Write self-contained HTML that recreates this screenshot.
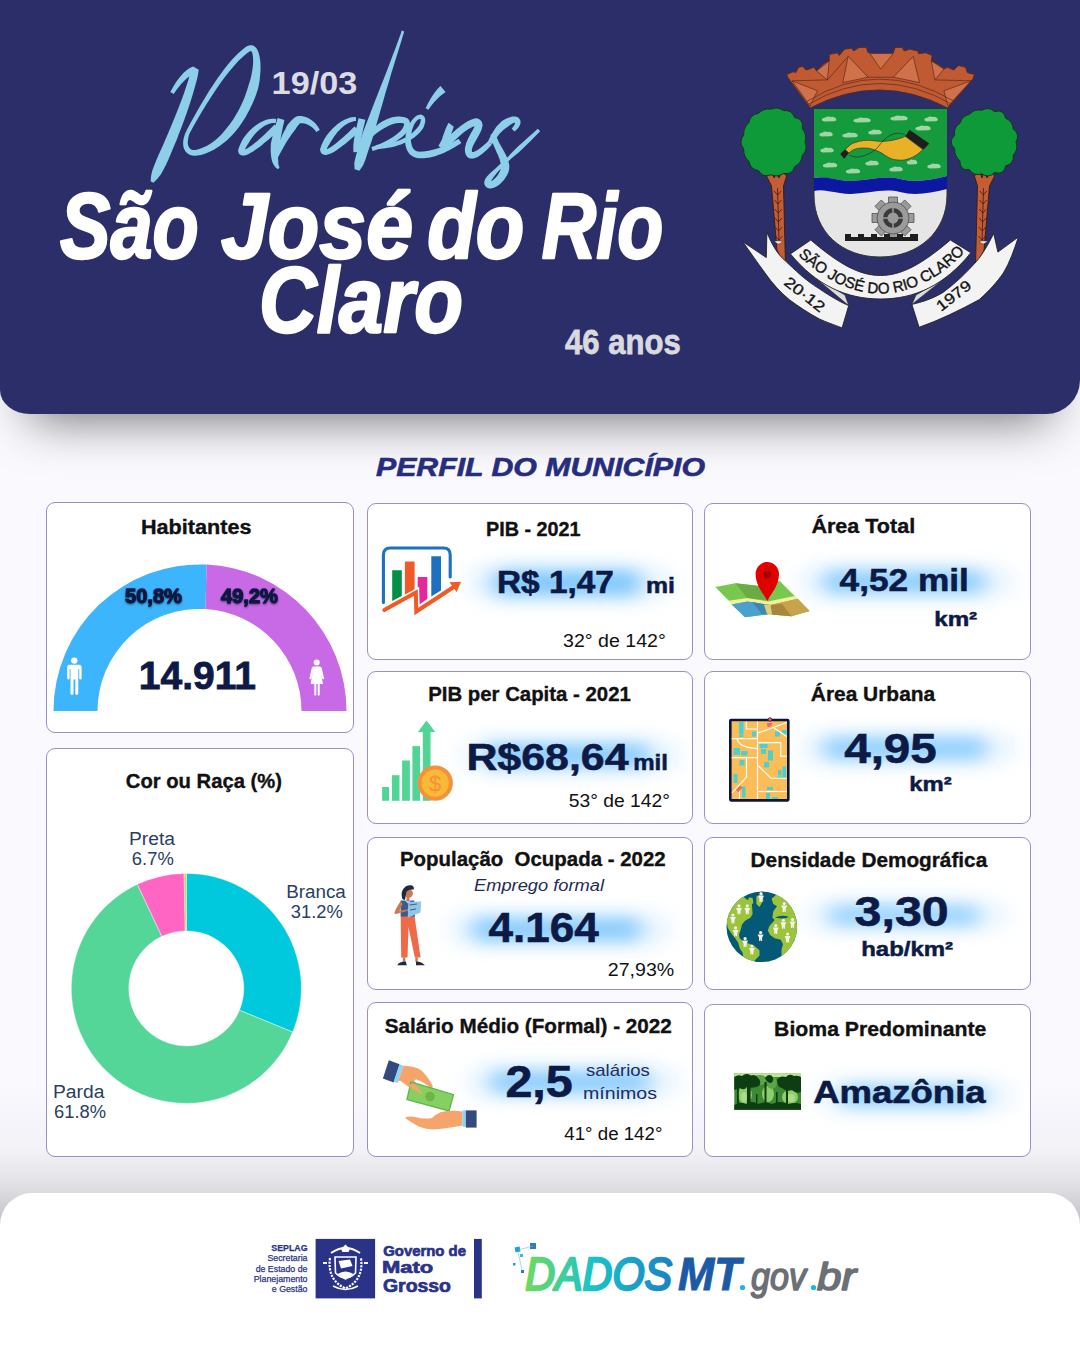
<!DOCTYPE html>
<html><head><meta charset="utf-8">
<style>
html,body{margin:0;padding:0;}
body{width:1080px;height:1350px;position:relative;overflow:hidden;background:#faf9fe;font-family:"Liberation Sans",sans-serif;}
.abs{position:absolute;}
#hdr{left:0;top:0;width:1080px;height:414px;background:#2c2e6a;border-radius:0 0 34px 30px / 0 0 34px 24px;box-shadow:0 35px 50px -30px rgba(0,0,0,0.56);z-index:2;}
#ftr{left:0;top:1193px;width:1080px;height:200px;background:#fff;border-radius:32px 32px 0 0;z-index:2;}
.card{position:absolute;background:#fff;border:1px solid #9890c8;border-radius:9px;box-sizing:border-box;z-index:1;}
svg.ov{position:absolute;left:0;top:0;z-index:5;}
</style></head><body>
<div id="hdr" class="abs"></div>
<div class="abs" style="left:0;top:1080px;width:1080px;height:170px;z-index:0;background:linear-gradient(#faf9fe 0px,#f6f5fb 40px,#f3f2f7 70px,#e9e8ed 90px,#dedde2 110px,#dad9de 113px,#d6d5da 118px,#bdbcc1 150px,#bdbcc1 170px)"></div>
<div id="ftr" class="abs"></div>
<div class="card" style="left:46px;top:502px;width:308px;height:231px"></div>
<div class="card" style="left:46px;top:748px;width:308px;height:409px"></div>
<div class="card" style="left:367px;top:503px;width:326px;height:157px"></div>
<div class="card" style="left:367px;top:671px;width:326px;height:153px"></div>
<div class="card" style="left:367px;top:837px;width:326px;height:153px"></div>
<div class="card" style="left:367px;top:1002px;width:326px;height:155px"></div>
<div class="card" style="left:704px;top:503px;width:327px;height:157px"></div>
<div class="card" style="left:704px;top:671px;width:327px;height:153px"></div>
<div class="card" style="left:704px;top:837px;width:327px;height:153px"></div>
<div class="card" style="left:704px;top:1004px;width:327px;height:153px"></div>
<svg class="ov" width="1080" height="1350" viewBox="0 0 1080 1350" font-family="Liberation Sans, sans-serif">
<defs>
<filter id="blur" x="-40%" y="-400%" width="180%" height="900%"><feGaussianBlur stdDeviation="10"/></filter>
<filter id="blur2" x="-40%" y="-400%" width="180%" height="900%"><feGaussianBlur stdDeviation="12"/></filter>
<filter id="tsh" x="-20%" y="-40%" width="140%" height="180%"><feGaussianBlur in="SourceAlpha" stdDeviation="1.2" result="b"/><feOffset dy="1" result="o"/><feFlood flood-color="#000" flood-opacity="0.45"/><feComposite in2="o" operator="in" result="s"/><feMerge><feMergeNode in="s"/><feMergeNode in="SourceGraphic"/></feMerge></filter>
<linearGradient id="gdados" x1="525" y1="0" x2="675" y2="0" gradientUnits="userSpaceOnUse"><stop offset="0" stop-color="#6fdb5e"/><stop offset="0.45" stop-color="#18c4c9"/><stop offset="1" stop-color="#1a7fc4"/></linearGradient>
<linearGradient id="gmt" x1="678" y1="0" x2="745" y2="0" gradientUnits="userSpaceOnUse"><stop offset="0" stop-color="#1b6cb8"/><stop offset="1" stop-color="#1a4f9c"/></linearGradient>
<clipPath id="globeclip"><circle cx="761.8" cy="926.8" r="35.3"/></clipPath>
</defs>
<g id="para" fill="#8dcfe9">
<path d="M173.7,94.0 L174.7,92.6 L175.6,91.2 L176.6,89.8 L177.6,88.5 L178.6,87.2 L179.6,86.0 L180.6,84.7 L181.6,83.6 L182.6,82.5 L183.6,81.4 L184.6,80.4 L185.6,79.4 L186.6,78.6 L187.6,77.7 L188.6,77.0 L189.5,76.3 L190.4,75.7 L191.3,75.2 L192.1,74.7 L192.9,74.4 L193.7,74.1 L194.4,73.9 L195.0,73.7 L191.3,70.2 L190.5,72.4 L189.5,75.8 L188.5,79.4 L187.3,83.2 L186.0,87.3 L184.6,91.5 L183.0,95.9 L181.4,100.4 L179.6,105.1 L177.7,109.9 L175.8,114.8 L173.8,119.7 L171.7,124.7 L169.6,129.8 L167.4,134.9 L165.2,140.0 L163.0,145.2 L160.7,150.3 L158.4,155.3 L156.2,160.4 L154.2,165.5 L152.3,170.5 L151.1,175.8 L150.6,181.3 L153.4,182.7 L157.4,178.8 L160.8,174.5 L163.4,169.7 L166.0,164.8 L168.3,159.7 L170.5,154.6 L172.7,149.3 L174.9,144.1 L177.0,138.9 L179.0,133.6 L181.0,128.4 L183.0,123.3 L184.8,118.2 L186.6,113.2 L188.3,108.2 L189.9,103.4 L191.4,98.7 L192.8,94.2 L194.1,89.8 L195.3,85.6 L196.4,81.6 L197.4,77.7 L198.1,74.1 L198.7,69.8 L193.2,66.6 L192.1,67.0 L190.9,67.5 L189.8,68.1 L188.7,68.7 L187.6,69.5 L186.5,70.3 L185.5,71.2 L184.4,72.1 L183.4,73.1 L182.4,74.2 L181.4,75.3 L180.4,76.5 L179.4,77.7 L178.4,79.0 L177.4,80.3 L176.5,81.6 L175.5,83.0 L174.6,84.4 L173.7,85.9 L172.8,87.4 L172.0,88.9 L171.1,90.4 L170.3,92.0Z"/>
<path d="M189.8,133.0 L191.5,129.9 L193.3,126.6 L195.2,123.2 L197.3,119.6 L199.4,115.9 L201.7,112.1 L204.0,108.3 L206.4,104.3 L208.9,100.4 L211.4,96.4 L214.0,92.4 L216.7,88.5 L219.4,84.6 L222.1,80.8 L224.9,77.1 L227.7,73.5 L230.5,70.0 L233.3,66.7 L236.1,63.6 L238.8,60.6 L241.6,57.9 L244.3,55.5 L247.0,53.3 L249.6,51.4 L250.2,51.2 L250.7,51.0 L250.9,51.1 L251.0,51.1 L251.2,51.2 L251.5,51.6 L251.9,52.2 L252.3,53.1 L252.6,54.3 L252.8,55.7 L253.0,57.3 L253.1,59.1 L253.1,61.0 L253.1,63.0 L252.9,65.2 L252.7,67.4 L252.4,69.8 L252.0,72.1 L251.5,74.5 L251.0,77.0 L250.4,79.4 L249.7,81.8 L248.9,84.2 L248.2,86.6 L247.2,89.8 L246.1,93.1 L244.9,96.4 L243.6,99.7 L242.2,103.0 L240.6,106.3 L239.0,109.5 L237.2,112.7 L235.4,115.8 L233.5,118.9 L231.4,121.9 L229.4,124.8 L227.2,127.6 L225.0,130.3 L222.7,132.9 L220.4,135.4 L218.0,137.7 L215.5,139.9 L212.9,141.9 L210.3,143.7 L207.6,145.4 L204.8,146.8 L202.0,148.1 L199.1,149.1 L197.8,149.6 L196.5,149.8 L195.3,150.0 L194.3,150.1 L193.3,150.0 L192.5,149.9 L191.8,149.7 L191.1,149.4 L190.5,149.0 L190.0,148.6 L189.5,148.1 L189.1,147.5 L188.7,146.8 L188.4,146.0 L188.1,145.1 L187.9,144.1 L187.8,142.9 L187.8,141.7 L187.9,140.4 L188.1,139.0 L188.4,137.6 L188.7,136.0 L189.2,134.4 L189.9,132.7 L186.1,131.3 L185.4,133.0 L184.7,134.8 L184.2,136.5 L183.7,138.2 L183.4,139.8 L183.2,141.5 L183.1,143.0 L183.2,144.5 L183.3,146.0 L183.6,147.4 L184.1,148.7 L184.7,150.0 L185.4,151.2 L186.3,152.3 L187.3,153.2 L188.4,154.0 L189.7,154.7 L191.1,155.2 L192.5,155.5 L194.1,155.7 L195.7,155.7 L197.3,155.6 L199.1,155.3 L200.9,154.9 L204.2,153.9 L207.4,152.7 L210.7,151.3 L213.8,149.7 L216.9,147.8 L220.0,145.8 L222.9,143.6 L225.8,141.2 L228.6,138.7 L231.3,136.0 L233.9,133.2 L236.4,130.2 L238.8,127.2 L241.1,124.0 L243.2,120.7 L245.3,117.4 L247.2,114.0 L249.1,110.5 L250.8,107.1 L252.5,103.5 L254.0,100.0 L255.4,96.5 L256.6,92.9 L257.8,89.4 L258.5,86.8 L259.0,84.0 L259.5,81.3 L259.8,78.5 L260.1,75.8 L260.3,73.1 L260.5,70.5 L260.5,67.9 L260.5,65.4 L260.4,63.0 L260.2,60.6 L259.9,58.4 L259.5,56.3 L259.1,54.4 L258.5,52.6 L257.9,50.9 L257.1,49.3 L256.2,47.9 L255.0,46.7 L253.5,45.7 L251.8,45.2 L249.9,45.2 L248.2,45.7 L246.4,46.6 L243.5,48.7 L240.6,51.2 L237.7,53.8 L234.8,56.7 L231.9,59.8 L229.1,63.1 L226.3,66.6 L223.4,70.2 L220.7,74.0 L217.9,77.8 L215.2,81.7 L212.6,85.7 L209.9,89.8 L207.4,93.8 L204.9,97.9 L202.5,101.9 L200.1,106.0 L197.8,109.9 L195.7,113.8 L193.6,117.5 L191.6,121.1 L189.7,124.6 L187.9,127.9 L186.2,131.0Z"/>
<path d="M276.2,119.0 L274.3,118.8 L272.3,118.7 L270.3,118.9 L268.3,119.3 L266.3,119.8 L264.4,120.5 L262.4,121.4 L260.5,122.3 L258.6,123.5 L256.7,124.7 L254.9,126.0 L253.1,127.5 L251.4,129.0 L249.8,130.6 L248.1,132.3 L246.6,134.1 L245.1,135.9 L243.7,137.8 L242.5,139.8 L241.4,141.8 L240.4,143.9 L239.5,145.9 L238.8,148.0 L238.0,150.6 L238.8,153.4 L240.1,154.7 L241.7,155.5 L243.3,155.6 L244.8,155.4 L246.2,155.0 L247.7,154.4 L249.1,153.7 L250.7,152.8 L252.4,151.9 L254.1,150.8 L255.8,149.6 L257.7,148.3 L259.5,146.9 L261.5,145.4 L263.4,143.8 L265.4,142.1 L267.4,140.4 L269.5,138.7 L271.5,136.9 L273.5,135.0 L275.5,133.2 L277.5,131.3 L279.5,129.5 L274.5,124.5 L272.7,126.4 L270.8,128.3 L268.9,130.2 L267.0,132.1 L265.1,133.9 L263.2,135.7 L261.3,137.4 L259.5,139.1 L257.6,140.7 L255.8,142.2 L254.1,143.6 L252.4,144.9 L250.8,146.1 L249.3,147.1 L247.9,148.0 L246.6,148.8 L245.5,149.3 L244.5,149.6 L243.7,149.7 L243.3,149.8 L243.3,149.7 L243.6,149.8 L243.9,150.1 L244.0,151.4 L244.6,150.3 L245.4,148.5 L246.3,146.8 L247.3,145.1 L248.4,143.4 L249.5,141.6 L250.6,139.8 L251.8,138.1 L253.0,136.4 L254.3,134.8 L255.7,133.3 L257.1,131.8 L258.6,130.4 L260.1,129.1 L261.6,127.9 L263.1,126.8 L264.7,125.8 L266.3,125.0 L267.9,124.3 L269.5,123.7 L271.0,123.3 L272.6,123.0 L274.2,122.9 L275.8,123.0Z"/>
<path d="M277.6,118.1 L277.0,120.1 L276.5,122.1 L275.9,124.0 L275.3,126.0 L274.8,127.9 L274.2,129.8 L273.7,131.7 L273.2,133.6 L272.7,135.5 L272.2,137.3 L271.8,139.2 L271.4,141.0 L271.0,142.8 L270.8,144.6 L270.8,146.3 L270.7,148.1 L270.7,149.8 L270.7,151.4 L270.8,153.1 L270.9,154.7 L271.1,156.2 L271.3,157.7 L271.6,159.2 L271.9,160.6 L272.1,161.2 L272.3,161.8 L272.5,162.4 L272.8,163.0 L273.0,163.5 L273.3,164.0 L273.5,164.4 L273.8,164.9 L274.0,165.3 L274.3,165.7 L274.5,166.1 L274.8,166.4 L275.1,166.8 L275.3,167.1 L275.6,167.4 L275.9,167.7 L276.2,167.9 L276.5,168.2 L276.8,168.4 L277.1,168.6 L277.4,168.7 L277.8,168.9 L278.1,169.0 L278.4,169.1 L279.6,166.9 L279.4,166.7 L279.3,166.6 L279.1,166.4 L279.0,166.2 L278.9,166.1 L278.8,165.9 L278.8,165.7 L278.7,165.5 L278.6,165.3 L278.6,165.1 L278.5,164.8 L278.5,164.6 L278.4,164.3 L278.4,164.0 L278.3,163.7 L278.3,163.3 L278.3,162.9 L278.3,162.5 L278.3,162.0 L278.3,161.6 L278.3,161.1 L278.2,160.5 L278.1,160.0 L278.1,159.4 L278.0,158.3 L278.0,157.1 L278.0,155.8 L278.1,154.5 L278.2,153.2 L278.4,151.8 L278.6,150.4 L278.9,148.9 L279.2,147.4 L279.5,145.8 L279.9,144.2 L280.1,142.5 L280.3,140.8 L280.6,139.0 L280.9,137.2 L281.2,135.4 L281.6,133.6 L282.0,131.7 L282.3,129.8 L282.7,127.8 L283.1,125.8 L283.6,123.9 L284.0,121.9 L284.4,119.9Z"/>
<path d="M277.8,157.8 L278.9,155.7 L279.9,153.7 L281.0,151.7 L282.1,149.8 L283.2,147.8 L284.2,145.9 L285.3,144.1 L286.4,142.3 L287.5,140.5 L288.6,138.8 L289.7,137.2 L290.8,135.6 L291.8,134.1 L292.8,132.7 L293.9,131.4 L294.8,130.1 L295.7,128.9 L296.4,127.7 L297.2,126.6 L297.8,125.7 L298.5,124.9 L299.1,124.2 L299.6,123.6 L299.5,123.5 L299.6,123.5 L300.3,123.3 L301.0,123.2 L301.7,123.2 L302.5,123.2 L303.3,123.3 L304.1,123.4 L305.0,123.6 L305.8,123.9 L306.7,124.2 L307.5,124.5 L308.4,124.9 L309.2,125.4 L310.0,125.9 L310.8,126.4 L311.6,127.0 L312.3,127.5 L313.0,128.1 L313.6,128.7 L314.3,129.4 L314.8,130.0 L315.3,130.6 L315.8,131.3 L316.2,131.9 L319.8,130.1 L319.4,129.2 L318.9,128.3 L318.4,127.4 L317.8,126.6 L317.2,125.7 L316.5,124.8 L315.8,124.0 L315.0,123.1 L314.1,122.3 L313.3,121.5 L312.3,120.8 L311.4,120.1 L310.4,119.4 L309.4,118.7 L308.3,118.2 L307.2,117.6 L306.0,117.2 L304.8,116.8 L303.6,116.5 L302.4,116.2 L301.1,116.1 L299.8,116.0 L298.4,116.1 L296.5,116.5 L294.8,117.5 L293.8,118.3 L292.7,119.2 L291.7,120.2 L290.7,121.3 L289.6,122.4 L288.5,123.7 L287.5,125.1 L286.6,126.6 L285.8,128.2 L284.9,129.9 L284.0,131.6 L283.1,133.5 L282.2,135.3 L281.4,137.2 L280.5,139.2 L279.7,141.2 L278.8,143.3 L278.0,145.4 L277.2,147.5 L276.4,149.7 L275.6,151.8 L274.9,154.0 L274.2,156.2Z"/>
<path d="M355.9,117.0 L354.0,117.0 L352.1,117.2 L350.2,117.6 L348.2,118.2 L346.3,118.9 L344.5,119.7 L342.6,120.7 L340.8,121.8 L339.1,123.0 L337.3,124.3 L335.7,125.7 L334.0,127.2 L332.4,128.7 L330.9,130.4 L329.4,132.1 L328.0,133.8 L326.6,135.6 L325.4,137.4 L324.2,139.3 L323.3,141.3 L322.3,143.2 L321.5,145.1 L320.8,147.1 L320.0,149.6 L320.7,152.3 L321.8,153.7 L323.3,154.6 L324.9,155.0 L326.4,155.0 L327.9,154.6 L329.3,154.1 L330.8,153.5 L332.3,152.8 L333.9,151.9 L335.5,150.9 L337.2,149.8 L338.9,148.5 L340.7,147.2 L342.5,145.8 L344.4,144.4 L346.3,142.9 L348.2,141.3 L350.1,139.7 L352.0,138.1 L353.9,136.4 L355.7,134.8 L357.6,133.2 L359.4,131.6 L354.6,126.4 L352.9,128.1 L351.1,129.8 L349.4,131.5 L347.6,133.2 L345.8,134.8 L344.0,136.5 L342.2,138.1 L340.4,139.6 L338.7,141.1 L337.0,142.5 L335.4,143.8 L333.8,145.0 L332.3,146.1 L330.9,147.0 L329.6,147.8 L328.4,148.5 L327.3,149.0 L326.5,149.2 L325.9,149.3 L325.6,149.2 L325.6,149.2 L325.8,149.4 L326.0,149.5 L326.0,150.4 L326.6,149.4 L327.3,147.8 L328.2,146.1 L329.2,144.4 L330.2,142.8 L331.2,141.1 L332.3,139.4 L333.3,137.7 L334.5,136.0 L335.7,134.4 L336.9,132.8 L338.2,131.3 L339.6,129.9 L341.0,128.5 L342.4,127.2 L343.8,126.1 L345.3,125.0 L346.8,124.0 L348.3,123.2 L349.8,122.5 L351.4,121.9 L352.9,121.4 L354.5,121.1 L356.1,121.0Z"/>
<path d="M358.6,118.2 L358.2,119.8 L357.8,121.4 L357.5,122.9 L357.1,124.5 L356.8,126.0 L356.4,127.4 L356.1,128.9 L355.7,130.3 L355.4,131.8 L355.1,133.2 L354.8,134.6 L354.6,136.0 L354.3,137.4 L354.1,138.7 L353.9,140.1 L353.7,141.5 L353.6,142.8 L353.4,144.2 L353.4,145.6 L353.3,146.9 L353.3,148.3 L353.3,149.6 L353.4,151.0 L353.5,152.3 L360.5,151.7 L360.4,150.5 L360.3,149.4 L360.3,148.2 L360.3,147.1 L360.4,145.9 L360.4,144.7 L360.5,143.5 L360.7,142.3 L360.8,141.1 L361.0,139.8 L361.2,138.6 L361.4,137.3 L361.7,136.0 L362.0,134.6 L362.3,133.3 L362.6,131.9 L362.9,130.5 L363.2,129.0 L363.6,127.6 L363.9,126.1 L364.3,124.6 L364.7,123.0 L365.0,121.4 L365.4,119.8Z"/>
<path d="M401.8,30.6 L400.3,35.0 L398.6,39.5 L396.8,44.4 L395.0,49.4 L393.0,54.6 L391.0,60.0 L388.9,65.6 L386.7,71.3 L384.4,77.2 L382.1,83.1 L379.7,89.1 L377.3,95.2 L374.9,101.3 L372.5,107.5 L370.1,113.8 L367.7,120.0 L365.3,126.2 L362.9,132.4 L361.0,138.6 L359.1,144.8 L357.3,151.0 L355.6,157.0 L354.3,163.0 L354.6,169.3 L359.4,170.7 L363.0,165.6 L365.3,159.9 L367.2,154.0 L369.2,148.0 L371.3,141.9 L373.3,135.8 L375.1,129.4 L376.9,123.0 L378.7,116.7 L380.5,110.3 L382.4,103.9 L384.2,97.6 L386.0,91.3 L387.9,85.1 L389.7,79.0 L391.4,73.0 L393.3,67.1 L395.0,61.4 L396.7,55.9 L398.4,50.6 L400.0,45.4 L401.5,40.5 L402.9,35.8 L404.2,31.4Z"/>
<path d="M363.6,146.2 L365.5,144.0 L367.3,141.9 L369.2,139.9 L371.1,138.0 L373.1,136.3 L375.0,134.6 L376.9,133.1 L378.9,131.6 L380.8,130.3 L382.7,129.1 L384.6,128.0 L386.4,127.1 L388.2,126.1 L389.9,125.3 L391.6,124.6 L393.3,124.0 L394.9,123.5 L396.5,123.2 L398.0,123.0 L399.5,122.9 L400.9,122.9 L402.3,123.1 L403.6,123.4 L404.2,123.5 L403.8,123.2 L404.0,123.6 L404.1,124.1 L404.1,124.7 L404.0,125.3 L403.7,126.1 L403.3,127.0 L402.8,128.0 L402.1,129.1 L401.2,130.2 L400.1,131.4 L398.8,132.6 L397.4,133.8 L395.8,135.0 L394.1,136.3 L392.2,137.5 L390.1,138.8 L387.9,140.1 L385.5,141.3 L383.0,142.5 L380.3,143.7 L377.5,144.9 L374.5,146.0 L371.4,147.1 L372.6,150.9 L375.8,149.9 L379.0,148.9 L382.0,147.9 L384.8,146.8 L387.5,145.6 L390.1,144.4 L392.5,143.2 L394.8,141.9 L396.9,140.7 L398.9,139.3 L400.7,138.0 L402.4,136.7 L403.9,135.3 L405.3,134.0 L406.5,132.6 L407.6,131.2 L408.5,129.7 L409.2,128.3 L409.7,126.8 L410.0,125.2 L410.0,123.7 L409.8,122.1 L409.3,120.6 L407.8,118.5 L405.4,117.5 L403.5,117.0 L401.6,116.7 L399.6,116.5 L397.6,116.6 L395.6,116.8 L393.5,117.1 L391.4,117.6 L389.4,118.2 L387.3,119.0 L385.2,119.9 L383.1,120.9 L381.0,122.2 L379.0,123.6 L377.0,125.2 L375.1,126.8 L373.1,128.6 L371.2,130.5 L369.3,132.4 L367.4,134.5 L365.6,136.7 L363.8,139.0 L362.1,141.3 L360.4,143.8Z"/>
<path d="M376.1,149.0 L378.5,148.9 L380.9,148.7 L383.3,148.4 L385.6,148.2 L387.9,147.8 L390.2,147.4 L392.5,146.9 L394.7,146.4 L396.9,145.8 L399.0,145.1 L401.1,144.4 L403.1,143.6 L405.1,142.8 L407.1,141.8 L409.0,140.8 L410.8,139.8 L412.6,138.6 L414.3,137.4 L416.0,136.1 L417.5,134.7 L419.0,133.3 L420.5,131.7 L421.8,130.1 L423.1,128.2 L423.9,126.5 L424.4,125.0 L424.8,123.6 L425.1,122.2 L425.2,121.0 L425.2,119.8 L425.1,118.7 L424.7,117.6 L424.2,116.7 L423.5,115.8 L422.6,115.2 L421.6,114.8 L420.5,114.6 L419.5,114.7 L418.5,114.9 L417.5,115.3 L416.5,115.8 L415.6,116.5 L414.6,117.3 L413.7,118.2 L412.8,119.2 L411.9,120.3 L411.0,121.6 L410.1,123.0 L409.1,124.8 L408.2,126.7 L407.5,128.6 L406.8,130.5 L406.3,132.4 L405.8,134.3 L405.5,136.2 L405.3,138.1 L405.1,140.0 L405.1,141.8 L405.3,143.6 L405.5,145.4 L405.9,147.1 L406.5,148.7 L407.1,150.3 L408.0,151.8 L408.9,153.2 L410.1,154.4 L411.4,155.5 L412.9,156.5 L414.5,157.3 L416.2,157.8 L418.1,158.2 L420.0,158.3 L422.0,158.3 L424.0,158.2 L426.0,158.0 L428.0,157.8 L430.0,157.4 L432.0,157.1 L433.9,156.5 L435.8,156.0 L437.6,155.3 L439.5,154.6 L441.3,153.9 L443.0,153.2 L444.8,152.4 L446.5,151.6 L448.2,150.8 L449.8,149.9 L451.4,149.1 L452.9,148.2 L454.5,147.3 L455.9,146.5 L457.3,145.6 L458.7,144.8 L460.0,144.0 L461.3,143.1 L458.7,138.9 L457.4,139.6 L456.1,140.3 L454.7,141.0 L453.3,141.8 L451.8,142.5 L450.3,143.2 L448.8,144.0 L447.2,144.7 L445.6,145.4 L444.0,146.0 L442.4,146.7 L440.7,147.3 L439.0,147.9 L437.3,148.5 L435.6,149.0 L433.9,149.4 L432.1,149.9 L430.4,150.3 L428.7,150.7 L426.9,151.0 L425.2,151.3 L423.5,151.5 L421.7,151.6 L420.0,151.7 L418.8,151.6 L417.7,151.5 L416.8,151.2 L415.9,150.8 L415.2,150.4 L414.5,149.8 L413.8,149.2 L413.2,148.4 L412.7,147.5 L412.2,146.5 L411.8,145.3 L411.5,144.1 L411.2,142.8 L411.0,141.4 L410.9,140.0 L410.9,138.4 L411.0,136.8 L411.1,135.2 L411.4,133.5 L411.7,131.8 L412.1,130.1 L412.6,128.4 L413.3,126.7 L413.9,125.0 L414.6,123.8 L415.2,122.7 L415.9,121.8 L416.6,121.0 L417.3,120.3 L418.0,119.8 L418.6,119.4 L419.2,119.1 L419.7,119.0 L420.0,118.9 L420.3,118.9 L420.4,119.0 L420.5,119.0 L420.5,119.0 L420.5,119.1 L420.6,119.3 L420.7,119.6 L420.7,120.0 L420.7,120.7 L420.6,121.5 L420.3,122.4 L420.0,123.4 L419.5,124.6 L418.9,125.8 L417.9,127.1 L416.7,128.5 L415.5,129.8 L414.2,131.1 L412.8,132.4 L411.4,133.5 L409.9,134.7 L408.3,135.7 L406.7,136.7 L405.0,137.7 L403.2,138.6 L401.4,139.4 L399.5,140.2 L397.6,140.9 L395.6,141.5 L393.5,142.1 L391.5,142.7 L389.3,143.2 L387.2,143.6 L385.0,144.0 L382.8,144.3 L380.5,144.6 L378.2,144.8 L375.9,145.0Z"/>
<path d="M428.3,109.7 L429.0,108.7 L429.8,107.7 L430.5,106.7 L431.3,105.7 L432.0,104.8 L432.7,103.9 L433.5,103.0 L434.3,102.1 L435.0,101.3 L435.8,100.5 L436.5,99.7 L437.2,99.0 L438.0,98.2 L438.7,97.5 L439.4,96.8 L440.2,96.2 L440.9,95.6 L441.6,95.0 L442.3,94.4 L442.9,93.9 L443.6,93.4 L444.3,93.0 L444.9,92.5 L445.5,92.1 L440.5,85.9 L439.9,86.5 L439.2,87.2 L438.6,87.9 L437.9,88.6 L437.3,89.3 L436.6,90.1 L436.0,90.9 L435.3,91.7 L434.7,92.6 L434.0,93.5 L433.4,94.4 L432.8,95.3 L432.1,96.3 L431.5,97.2 L430.9,98.2 L430.3,99.3 L429.7,100.3 L429.1,101.4 L428.5,102.5 L427.9,103.6 L427.3,104.7 L426.8,105.9 L426.2,107.1 L425.7,108.3Z"/>
<path d="M441.6,148.1 L442.3,147.3 L443.0,146.4 L443.7,145.5 L444.3,144.5 L444.9,143.6 L445.6,142.6 L446.2,141.7 L446.8,140.7 L447.4,139.7 L447.9,138.7 L448.5,137.8 L449.0,136.8 L449.5,135.8 L450.1,134.9 L450.5,133.9 L451.0,133.0 L451.5,132.0 L451.9,131.1 L452.3,130.2 L452.7,129.3 L453.1,128.5 L453.4,127.6 L453.8,126.8 L448.7,122.7 L447.6,124.6 L447.2,125.5 L446.7,126.4 L446.3,127.3 L445.9,128.2 L445.5,129.1 L445.2,130.0 L444.8,131.0 L444.4,131.9 L444.1,132.9 L443.8,133.8 L443.4,134.7 L443.1,135.7 L442.8,136.6 L442.5,137.5 L442.2,138.4 L442.0,139.3 L441.7,140.2 L441.5,141.1 L441.3,142.0 L441.1,142.9 L440.9,143.7 L440.7,144.6 L445.6,149.1 L447.8,147.1 L449.2,145.7 L450.6,144.4 L451.9,143.0 L453.3,141.7 L454.7,140.4 L456.0,139.2 L457.3,137.9 L458.7,136.7 L460.0,135.5 L461.3,134.4 L462.6,133.3 L463.9,132.3 L465.1,131.3 L466.4,130.4 L467.7,129.6 L468.9,128.8 L470.1,128.2 L471.3,127.5 L472.4,127.0 L473.6,126.5 L474.7,126.2 L475.7,125.9 L476.3,125.7 L475.4,125.7 L475.5,125.7 L475.4,125.7 L475.2,125.6 L475.1,125.4 L475.0,125.2 L474.9,125.1 L474.9,125.0 L474.9,125.0 L474.9,125.2 L474.8,125.4 L474.8,125.7 L474.7,126.0 L474.5,126.4 L474.4,126.9 L474.1,127.4 L473.9,127.9 L473.6,128.5 L473.3,129.0 L473.0,129.6 L472.7,130.2 L472.3,130.8 L472.0,131.4 L471.6,132.0 L470.9,133.2 L470.3,134.3 L469.7,135.4 L469.2,136.5 L468.6,137.6 L468.1,138.6 L467.6,139.7 L467.2,140.8 L466.7,141.8 L466.3,142.8 L466.0,143.9 L465.7,144.9 L465.4,145.9 L465.2,147.0 L465.0,148.0 L464.9,149.0 L464.9,150.1 L464.9,151.1 L465.1,152.2 L465.3,153.2 L465.7,154.2 L466.2,155.2 L466.7,156.2 L468.0,157.6 L469.9,158.4 L471.0,158.6 L472.1,158.6 L473.1,158.5 L474.2,158.3 L475.2,158.0 L476.2,157.6 L477.1,157.2 L478.1,156.7 L479.0,156.1 L480.0,155.5 L480.9,154.8 L481.9,154.1 L482.8,153.4 L483.7,152.6 L484.6,151.8 L485.5,151.0 L486.5,150.2 L487.4,149.3 L488.3,148.4 L489.1,147.5 L490.0,146.6 L490.9,145.7 L491.8,144.8 L488.2,141.2 L487.3,142.1 L486.4,142.9 L485.5,143.7 L484.6,144.5 L483.7,145.3 L482.8,146.1 L481.9,146.8 L481.0,147.5 L480.1,148.2 L479.3,148.8 L478.4,149.4 L477.6,149.9 L476.8,150.4 L476.0,150.8 L475.3,151.2 L474.6,151.5 L473.9,151.7 L473.3,151.9 L472.8,152.0 L472.3,152.1 L471.9,152.1 L471.6,152.1 L471.4,152.0 L472.0,152.4 L472.3,152.5 L472.2,152.2 L472.0,151.8 L471.9,151.4 L471.9,151.0 L471.8,150.6 L471.9,150.2 L471.9,149.6 L472.0,149.1 L472.2,148.5 L472.3,147.8 L472.6,147.1 L472.9,146.4 L473.2,145.6 L473.6,144.8 L474.0,143.9 L474.5,143.0 L475.0,142.1 L475.5,141.2 L476.1,140.2 L476.7,139.2 L477.3,138.1 L477.9,137.0 L478.4,136.0 L478.8,135.4 L479.2,134.7 L479.5,134.0 L479.9,133.3 L480.3,132.6 L480.6,131.9 L480.9,131.1 L481.3,130.4 L481.5,129.6 L481.8,128.9 L482.0,128.1 L482.2,127.3 L482.4,126.5 L482.5,125.7 L482.5,124.8 L482.4,123.9 L482.1,122.9 L481.8,122.0 L481.2,121.0 L480.5,120.2 L479.6,119.5 L478.7,119.0 L477.7,118.6 L475.7,118.3 L473.8,118.7 L472.3,119.2 L470.8,119.8 L469.4,120.4 L468.0,121.1 L466.6,121.9 L465.2,122.8 L463.8,123.7 L462.4,124.7 L461.0,125.7 L459.6,126.8 L458.2,127.9 L456.8,129.1 L455.4,130.3 L454.0,131.5 L452.6,132.8 L451.2,134.0 L449.8,135.4 L448.4,136.7 L447.0,138.0 L445.7,139.4 L444.3,140.8 L442.9,142.1 L442.4,142.9 L447.6,145.9 L447.7,145.2 L447.9,144.4 L448.1,143.7 L448.3,142.9 L448.5,142.1 L448.7,141.3 L448.9,140.5 L449.2,139.6 L449.5,138.8 L449.8,137.9 L450.1,137.0 L450.4,136.1 L450.7,135.2 L451.0,134.4 L451.3,133.5 L451.7,132.6 L452.0,131.7 L452.4,130.8 L452.7,129.9 L453.0,129.0 L453.3,128.1 L453.7,127.2 L453.3,127.3 L447.7,124.7 L447.5,125.5 L447.2,126.3 L447.0,127.1 L446.7,128.0 L446.4,128.9 L446.1,129.8 L445.7,130.7 L445.4,131.6 L445.0,132.5 L444.6,133.5 L444.2,134.5 L443.8,135.4 L443.4,136.4 L442.9,137.4 L442.5,138.4 L442.0,139.3 L441.5,140.3 L441.0,141.2 L440.5,142.2 L440.0,143.1 L439.5,144.0 L438.9,145.0 L438.4,145.9Z"/>
<path d="M492.2,144.2 L492.9,143.1 L493.6,142.1 L494.3,141.0 L495.0,139.9 L495.7,138.9 L496.4,137.9 L497.1,136.9 L497.9,135.9 L498.6,134.9 L499.4,134.0 L500.2,133.1 L501.0,132.2 L501.9,131.4 L502.7,130.6 L503.6,129.8 L504.6,129.0 L505.6,128.3 L506.6,127.6 L507.6,126.9 L508.6,126.1 L509.7,125.3 L510.8,124.5 L512.0,123.8 L513.2,123.1 L513.5,123.0 L514.0,122.9 L514.4,122.8 L514.7,122.7 L514.9,122.7 L515.0,122.7 L515.0,122.6 L515.0,122.6 L514.9,122.5 L514.9,122.4 L514.9,122.3 L515.0,122.3 L515.0,122.5 L515.1,122.7 L515.0,123.0 L515.0,123.4 L514.8,123.9 L514.6,124.4 L514.3,125.0 L514.0,125.6 L513.5,126.3 L513.0,127.0 L512.4,127.7 L511.7,128.5 L514.3,131.5 L515.3,130.8 L516.2,130.0 L517.0,129.2 L517.7,128.5 L518.4,127.7 L518.9,126.8 L519.4,126.0 L519.8,125.2 L520.2,124.3 L520.4,123.5 L520.5,122.6 L520.5,121.7 L520.4,120.7 L520.0,119.8 L519.5,118.9 L518.9,118.2 L518.1,117.5 L517.2,117.1 L516.2,116.7 L515.3,116.5 L514.3,116.5 L513.2,116.5 L512.2,116.6 L510.8,116.9 L509.1,117.5 L507.5,118.1 L506.0,118.8 L504.5,119.6 L503.1,120.3 L501.8,121.3 L500.7,122.3 L499.6,123.4 L498.5,124.4 L497.5,125.5 L496.6,126.6 L495.7,127.8 L494.9,128.9 L494.1,130.1 L493.4,131.2 L492.7,132.4 L492.0,133.6 L491.3,134.7 L490.7,135.9 L490.1,137.1 L489.5,138.3 L488.9,139.4 L488.4,140.6 L487.8,141.8Z"/>
<path d="M490.6,134.6 L490.9,136.4 L491.3,138.2 L491.8,139.9 L492.3,141.6 L492.9,143.3 L493.5,144.9 L494.2,146.5 L494.8,148.0 L495.5,149.5 L496.1,151.0 L496.7,152.4 L497.4,153.8 L498.0,155.2 L498.5,156.5 L499.0,157.8 L499.5,159.1 L499.9,160.4 L500.2,161.6 L500.5,162.8 L500.6,164.0 L500.8,165.2 L500.8,166.3 L500.9,167.5 L500.9,168.4 L500.7,168.9 L500.5,169.8 L500.1,170.7 L499.7,171.7 L499.2,172.6 L498.7,173.6 L498.1,174.5 L497.5,175.4 L496.8,176.2 L496.2,177.1 L495.5,177.8 L494.7,178.6 L494.0,179.2 L493.3,179.8 L492.7,180.3 L492.0,180.7 L491.5,181.0 L491.0,181.2 L490.6,181.3 L490.4,181.3 L490.3,181.4 L490.3,181.4 L490.4,181.5 L490.7,181.9 L490.9,182.3 L490.9,182.4 L490.8,182.4 L490.9,182.1 L491.0,181.5 L491.4,180.7 L491.9,179.6 L492.7,178.4 L493.7,177.0 L494.9,175.4 L496.4,173.6 L498.1,171.6 L500.1,169.5 L502.4,167.2 L504.9,164.7 L507.7,162.0 L510.8,159.1 L514.3,156.1 L518.1,152.9 L522.1,149.3 L526.2,145.3 L530.6,140.9 L535.2,136.2 L540.2,131.3 L537.8,128.7 L532.6,133.4 L527.7,137.8 L523.1,141.9 L518.8,145.8 L514.9,149.5 L511.5,153.1 L508.3,156.4 L505.2,159.4 L502.3,162.0 L499.7,164.4 L497.3,166.7 L495.2,168.7 L493.2,170.4 L491.4,172.1 L489.8,173.5 L488.4,174.9 L487.2,176.2 L486.2,177.5 L485.4,178.7 L484.8,180.0 L484.4,181.4 L484.2,182.9 L484.5,184.4 L485.3,186.1 L486.7,187.4 L488.0,188.0 L489.3,188.4 L490.7,188.5 L491.9,188.3 L493.1,188.0 L494.3,187.6 L495.5,187.1 L496.6,186.5 L497.7,185.8 L498.7,185.0 L499.8,184.2 L500.8,183.3 L501.8,182.3 L502.7,181.3 L503.7,180.2 L504.6,179.0 L505.4,177.8 L506.2,176.6 L506.9,175.4 L507.6,174.0 L508.2,172.7 L508.7,171.3 L509.1,169.6 L509.3,167.6 L509.3,165.8 L509.0,164.1 L508.7,162.4 L508.3,160.8 L507.7,159.3 L507.2,157.8 L506.5,156.3 L505.9,154.9 L505.1,153.5 L504.4,152.1 L503.6,150.7 L502.9,149.3 L502.1,148.0 L501.3,146.6 L500.5,145.2 L499.8,143.9 L499.0,142.5 L498.3,141.0 L497.7,139.6 L497.0,138.1 L496.4,136.6 L495.9,135.1 L495.4,133.4Z"/>
</g>
<g id="coa" stroke-linejoin="round">
<path d="M766.5,176 L771.5,170.5 L774.0,178 L776.6,170 L779.0,178 L781.6,171 L786.6,176 L783.5,186 L785.4,262 L783.0,262 L777.0,250 L771.5,186Z" fill="#c45d36" stroke="#3a1a10" stroke-width="0.9"/>
<path d="M777.5,188 L779.0,242" fill="none" stroke="#3a1a10" stroke-width="0.8"/>
<path d="M774.2,191 L777.7,195 L781.2,191" fill="none" stroke="#3a1a10" stroke-width="0.8"/>
<path d="M774.4,200 L777.9,204 L781.4,200" fill="none" stroke="#3a1a10" stroke-width="0.8"/>
<path d="M774.7,209 L778.2,213 L781.7,209" fill="none" stroke="#3a1a10" stroke-width="0.8"/>
<path d="M774.9,218 L778.4,222 L781.9,218" fill="none" stroke="#3a1a10" stroke-width="0.8"/>
<path d="M775.2,227 L778.7,231 L782.2,227" fill="none" stroke="#3a1a10" stroke-width="0.8"/>
<path d="M775.4,236 L778.9,240 L782.4,236" fill="none" stroke="#3a1a10" stroke-width="0.8"/>
<path d="M774.5,241 Q778.5,247 782.5,241 Z" fill="#eee" stroke="#333" stroke-width="0.5"/>
<path d="M994.5,176 L989.5,170.5 L987.0,178 L984.4,170 L982.0,178 L979.4,171 L974.4,176 L977.5,186 L975.6,262 L978.0,262 L984.0,250 L989.5,186Z" fill="#c45d36" stroke="#3a1a10" stroke-width="0.9"/>
<path d="M983.5,188 L982.0,242" fill="none" stroke="#3a1a10" stroke-width="0.8"/>
<path d="M979.8,191 L983.3,195 L986.8,191" fill="none" stroke="#3a1a10" stroke-width="0.8"/>
<path d="M979.6,200 L983.1,204 L986.6,200" fill="none" stroke="#3a1a10" stroke-width="0.8"/>
<path d="M979.3,209 L982.8,213 L986.3,209" fill="none" stroke="#3a1a10" stroke-width="0.8"/>
<path d="M979.1,218 L982.6,222 L986.1,218" fill="none" stroke="#3a1a10" stroke-width="0.8"/>
<path d="M978.8,227 L982.3,231 L985.8,227" fill="none" stroke="#3a1a10" stroke-width="0.8"/>
<path d="M978.6,236 L982.1,240 L985.6,236" fill="none" stroke="#3a1a10" stroke-width="0.8"/>
<path d="M979.5,241 Q982.5,247 987.5,241 Z" fill="#eee" stroke="#333" stroke-width="0.5"/>
<path d="M805.0,142.0 Q808.2,149.7 802.3,155.4 Q801.7,163.3 794.7,166.5 Q792.2,175.3 783.6,173.4 Q777.5,177.6 770.8,174.8 Q762.9,178.1 758.5,170.6 Q750.5,169.6 748.9,161.4 Q743.2,156.5 743.7,148.9 Q738.2,142.0 743.7,135.1 Q743.2,127.5 748.9,122.6 Q750.3,114.2 758.5,113.4 Q763.6,107.9 770.8,109.2 Q777.5,106.3 783.6,110.6 Q791.7,109.6 794.7,117.5 Q804.1,118.9 802.3,128.6 Q807.3,134.5 805.0,142.0Z" fill="#0e9a38" stroke="#16331d" stroke-width="1"/>
<path d="M1016.0,142.0 Q1018.8,149.4 1013.3,155.0 Q1014.4,163.9 1005.7,165.8 Q1003.9,175.6 994.6,172.4 Q988.8,178.9 981.8,173.8 Q974.1,176.5 969.5,169.7 Q959.6,170.9 959.9,160.8 Q954.2,156.1 954.7,148.7 Q947.6,142.0 954.7,135.3 Q953.2,127.4 959.9,123.2 Q962.1,115.9 969.5,114.3 Q974.5,108.7 981.8,110.2 Q988.6,106.3 994.6,111.6 Q1003.6,108.9 1005.7,118.2 Q1012.8,121.2 1013.3,129.0 Q1020.3,134.3 1016.0,142.0Z" fill="#0e9a38" stroke="#16331d" stroke-width="1"/>
<path d="M810.3,107.9 L787.7,77.2 L786.8,74.5 L793.1,71.8 L796,72.5 L798.5,67.3 L803,66.4 L805.8,70 L809.4,69.1 L813.9,67.3 L816.6,70.9 L823.8,63.7 L829.2,61 L829.2,54.6 L837.4,52.8 L839.2,55.5 L844.6,49.2 L851.8,48.3 L853.6,51 L859,47.4 L866.3,47.4 L868.1,52.8 L869.9,52.8 L877.1,54.6 L878,56.4 L884.3,56.4 L886.1,53.7 L893.3,52.8 L895.1,47.4 L902.4,47.4 L904.2,51 L909.6,49.2 L917.7,51 L918.6,53.7 L925.8,52.8 L932.2,55.5 L931.3,61 L938.5,64.6 L943.9,69.1 L947.5,67.3 L953.8,70 L958.3,65.5 L965.6,67.3 L967.4,72.7 L974.6,74.5 L972.8,79 L947.5,107.9 Q879,72 810.3,107.9 Z" fill="#c05a33" stroke="#5b2a1a" stroke-width="0.9"/>
<g fill="#d0714a" stroke="#5b2a1a" stroke-width="0.7"><path d="M848.2,56.4 L842.8,82.6 L868.1,77.2 Z"/><path d="M869.9,53.5 L880.7,69.1 L893.3,53.5 Z"/><path d="M913.2,56.4 L893.3,77.2 L919.5,82.6 Z"/><path d="M792.2,80.8 L817.5,90.8 L810,106 Z"/><path d="M971,80.8 L943.9,90.8 L948,106 Z"/><path d="M829.2,61 L827.4,79.9 L816.6,71 Z"/><path d="M931.3,61 L934.9,79.9 L943.9,69.1 Z"/></g>
<path d="M806.7,101.6 Q879,56.5 954.7,101.6 M808.5,104.3 Q879,62.7 952,104.3 M792.2,80.8 L827.4,79.9 L848.2,56.4 M868.1,77.2 L893.3,77.2 M934.9,79.9 L971,80.8" fill="none" stroke="#5b2a1a" stroke-width="0.7"/>
<path d="M814,109 L947,109 L947,195 C947,232 918,257 880,257 C842,257 814,232 814,195 Z" fill="#e6e6e6" stroke="#333" stroke-width="1"/>
<path d="M814,109 L947,109 L947,176 C930,180 915,183 900,179 C880,174 860,184 840,180 C828,178 820,176 814,178 Z" fill="#169a3e"/>
<path d="M814,178 C822,176 830,178 840,180 C860,184 880,174 900,179 C915,183 930,180 947,176 L947,189 C930,193 915,196 900,192 C880,187 860,197 840,193 C828,191 820,189 814,191 Z" fill="#0c18a2"/>
<path d="M822.0,120.5 Q821.0,118 825.5,117.5 Q827.25,115.8 830.75,117 Q833.6666666666666,116 836.0,118.5 Q837.0,121 833.6666666666666,121.2 L824.3333333333334,121.4 Z" fill="#a2d5a4"/>
<path d="M853.5,121.5 Q852.5,119 857.75,118.5 Q859.875,116.8 864.125,118 Q867.6666666666666,117 870.5,119.5 Q871.5,122 867.6666666666666,122.2 L856.3333333333334,122.4 Z" fill="#a2d5a4"/>
<path d="M890.5,119.5 Q889.5,117 894.75,116.5 Q896.875,114.8 901.125,116 Q904.6666666666666,115 907.5,117.5 Q908.5,120 904.6666666666666,120.2 L893.3333333333334,120.4 Z" fill="#a2d5a4"/>
<path d="M924.5,120.5 Q923.5,118 927.75,117.5 Q929.375,115.8 932.625,117 Q935.3333333333334,116 937.5,118.5 Q938.5,121 935.3333333333334,121.2 L926.6666666666666,121.4 Z" fill="#a2d5a4"/>
<path d="M819.5,135.5 Q818.5,133 822.75,132.5 Q824.375,130.8 827.625,132 Q830.3333333333334,131 832.5,133.5 Q833.5,136 830.3333333333334,136.2 L821.6666666666666,136.4 Z" fill="#a2d5a4"/>
<path d="M842.5,136.5 Q841.5,134 846.25,133.5 Q848.125,131.8 851.875,133 Q855.0,132 857.5,134.5 Q858.5,137 855.0,137.2 L845.0,137.4 Z" fill="#a2d5a4"/>
<path d="M868.5,133.5 Q867.5,131 871.75,130.5 Q873.375,128.8 876.625,130 Q879.3333333333334,129 881.5,131.5 Q882.5,134 879.3333333333334,134.2 L870.6666666666666,134.4 Z" fill="#a2d5a4"/>
<path d="M915.5,129.5 Q914.5,127 919.25,126.5 Q921.125,124.8 924.875,126 Q928.0,125 930.5,127.5 Q931.5,130 928.0,130.2 L918.0,130.4 Z" fill="#a2d5a4"/>
<path d="M820.5,151.5 Q819.5,149 823.75,148.5 Q825.375,146.8 828.625,148 Q831.3333333333334,147 833.5,149.5 Q834.5,152 831.3333333333334,152.2 L822.6666666666666,152.4 Z" fill="#a2d5a4"/>
<path d="M823.0,166.5 Q822.0,164 826.5,163.5 Q828.25,161.8 831.75,163 Q834.6666666666666,162 837.0,164.5 Q838.0,167 834.6666666666666,167.2 L825.3333333333334,167.4 Z" fill="#a2d5a4"/>
<path d="M865.5,164.5 Q864.5,162 868.75,161.5 Q870.375,159.8 873.625,161 Q876.3333333333334,160 878.5,162.5 Q879.5,165 876.3333333333334,165.2 L867.6666666666666,165.4 Z" fill="#a2d5a4"/>
<path d="M907.0,163.5 Q906.0,161 909.5,160.5 Q910.75,158.8 913.25,160 Q915.3333333333334,159 917.0,161.5 Q918.0,164 915.3333333333334,164.2 L908.6666666666666,164.4 Z" fill="#a2d5a4"/>
<path d="M927.5,167.5 Q926.5,165 930.75,164.5 Q932.375,162.8 935.625,164 Q938.3333333333334,163 940.5,165.5 Q941.5,168 938.3333333333334,168.2 L929.6666666666666,168.4 Z" fill="#a2d5a4"/>
<path d="M846.0,172.5 Q845.0,170 849.5,169.5 Q851.25,167.8 854.75,169 Q857.6666666666666,168 860.0,170.5 Q861.0,173 857.6666666666666,173.2 L848.3333333333334,173.4 Z" fill="#a2d5a4"/>
<path d="M889.5,170.5 Q888.5,168 892.75,167.5 Q894.375,165.8 897.625,167 Q900.3333333333334,166 902.5,168.5 Q903.5,171 900.3333333333334,171.2 L891.6666666666666,171.4 Z" fill="#a2d5a4"/>
<path d="M845.3,149.5 C849,145.5 852,143 855.5,142.4 C861,140.5 866,140.2 870.7,140.4 C876,140.8 879,141.6 883,141.4 C888,141 892,140.5 896.2,139.4 C900,138.5 903,137.5 905.4,136.3 L922.7,149.5 C920,152.5 917,155 913.5,156.7 C909,159 905,160.2 901.3,160.2 C897,160 894,159.8 891.1,158.7 C886,156.5 883,153.5 878.9,151.6 C874,149.5 870,148.2 865.6,148 C861,147.9 858,148.3 855.5,149 C852.5,150 850.5,151.5 848.8,153.1 Z" fill="#e9b128" stroke="#2a2a2a" stroke-width="0.6"/>
<path d="M905.4,136.3 L909.4,129.7 L929.3,143.4 L923.7,149.5 Z" fill="#1e1e1e"/><path d="M840.2,154.1 L844.8,149.5 L848.8,153.1 L844.3,158.7 Z" fill="#1e1e1e"/>
<path d="M849.4,155.1 C853,157 857,157.5 860.6,156.7 C866,155.5 871,153 875.8,149.5 C880,145 883,140 887,137.3 C891,134.5 895,133 899.3,133.2 C902,133.5 904,134.3 905.4,135.3" fill="none" stroke="#222" stroke-width="0.6"/>
<rect x="888.5" y="197" width="9" height="8" fill="#9b9b9b" stroke="#444" stroke-width="0.7" transform="rotate(0 893 218)"/>
<rect x="888.5" y="197" width="9" height="8" fill="#9b9b9b" stroke="#444" stroke-width="0.7" transform="rotate(45 893 218)"/>
<rect x="888.5" y="197" width="9" height="8" fill="#9b9b9b" stroke="#444" stroke-width="0.7" transform="rotate(90 893 218)"/>
<rect x="888.5" y="197" width="9" height="8" fill="#9b9b9b" stroke="#444" stroke-width="0.7" transform="rotate(135 893 218)"/>
<rect x="888.5" y="197" width="9" height="8" fill="#9b9b9b" stroke="#444" stroke-width="0.7" transform="rotate(180 893 218)"/>
<rect x="888.5" y="197" width="9" height="8" fill="#9b9b9b" stroke="#444" stroke-width="0.7" transform="rotate(225 893 218)"/>
<rect x="888.5" y="197" width="9" height="8" fill="#9b9b9b" stroke="#444" stroke-width="0.7" transform="rotate(270 893 218)"/>
<rect x="888.5" y="197" width="9" height="8" fill="#9b9b9b" stroke="#444" stroke-width="0.7" transform="rotate(315 893 218)"/>
<circle cx="893" cy="218" r="16" fill="#9b9b9b" stroke="#444" stroke-width="0.7"/>
<circle cx="893" cy="218" r="10" fill="#3a3a3a"/><circle cx="893" cy="218" r="5.5" fill="#9b9b9b"/>
<path d="M883,218 L903,218 M893,208 L893,228" stroke="#9b9b9b" stroke-width="1.5"/>
<path d="M845,241 L845,234 L851,234 L851,237 L858,237 L858,234 L864,234 L864,237 L871,237 L871,234 L877,234 L877,237 L884,237 L884,234 L890,234 L890,237 L897,237 L897,234 L903,234 L903,237 L910,237 L910,234 L918,234 L918,241 Z" fill="#1e1e1e"/>
<path d="M742.8,241.8 L766.3,257.5 L766.9,232.2 C772,245 778,255 785.6,261.1 C795,270 805,280 819.3,288.8 C830,296 840,302 848.7,305.6 L842.1,327.9 C832,324 826,322 819.3,318.9 C808,313 798,306 789.2,299.6 C780,292 772,283 765.1,273.1 C757,262 750,252 742.8,241.8 Z" fill="#f3f3f3" stroke="#222" stroke-width="0.9"/>
<path d="M1018.4,237 L997.9,252.1 L993.7,233.4 C988,245 982,255 976.8,261.1 C967,272 956,283 943.1,292.4 C932,299 922,302 911.9,304.4 L919.1,327.3 C940,320 960,310 979.3,299.6 C990,290 997,282 1003.3,273.1 C1010,262 1014,250 1018.4,237 Z" fill="#f3f3f3" stroke="#222" stroke-width="0.9"/>
<path d="M801,266 L848.7,305.6 L845,295 L814,277 Z" fill="#dcdcdc" stroke="#222" stroke-width="0.6"/>
<path d="M960,266 L911.9,304.4 L916,295 L947,277 Z" fill="#dcdcdc" stroke="#222" stroke-width="0.6"/>
<path d="M810.8,240 C840,265 860,275.5 880.5,275.5 C901,275.5 921,265 950.4,240 L970.8,252.7 C945,285 915,299 880.5,299 C846,299 816,285 790.4,253.9 Z" fill="#f3f3f3" stroke="#222" stroke-width="0.9"/>
<path id="arcp" d="M798,255 C828,284 857,293.5 880.5,293.5 C904,293.5 933,284 963,254" fill="none"/>
<text font-size="15.5" fill="#111" font-family="Liberation Sans, sans-serif" stroke="#111" stroke-width="0.35"><textPath href="#arcp" startOffset="0" textLength="190" lengthAdjust="spacingAndGlyphs">SÃO JOSÉ DO RIO CLARO</textPath></text>
<text x="783" y="284" font-size="15" fill="#111" stroke="#111" stroke-width="0.3" transform="rotate(38 783 284)" textLength="47" lengthAdjust="spacingAndGlyphs">20·12</text>
<text x="941" y="312" font-size="15" fill="#111" stroke="#111" stroke-width="0.3" transform="rotate(-38 941 312)" textLength="40" lengthAdjust="spacingAndGlyphs">1979</text>
</g>
<rect x="471" y="574" width="197" height="18" rx="8" fill="#a8d8ff" opacity="0.6" filter="url(#blur2)"/>
<rect x="493" y="573" width="147" height="20" rx="8" fill="#62bbfc" filter="url(#blur)"/>
<rect x="463" y="748" width="215" height="15" rx="8" fill="#a8d8ff" opacity="0.6" filter="url(#blur2)"/>
<rect x="485" y="747" width="165" height="17" rx="8" fill="#62bbfc" filter="url(#blur)"/>
<rect x="450" y="922" width="219" height="15" rx="8" fill="#a8d8ff" opacity="0.6" filter="url(#blur2)"/>
<rect x="472" y="921" width="169" height="17" rx="8" fill="#62bbfc" filter="url(#blur)"/>
<rect x="468" y="1075" width="210" height="14" rx="8" fill="#a8d8ff" opacity="0.6" filter="url(#blur2)"/>
<rect x="490" y="1074" width="160" height="16" rx="8" fill="#62bbfc" filter="url(#blur)"/>
<rect x="801" y="575" width="212" height="14" rx="8" fill="#a8d8ff" opacity="0.6" filter="url(#blur2)"/>
<rect x="823" y="574" width="162" height="16" rx="8" fill="#62bbfc" filter="url(#blur)"/>
<rect x="801" y="742" width="214" height="13" rx="8" fill="#a8d8ff" opacity="0.6" filter="url(#blur2)"/>
<rect x="823" y="741" width="164" height="15" rx="8" fill="#62bbfc" filter="url(#blur)"/>
<rect x="806" y="910" width="202" height="11" rx="8" fill="#a8d8ff" opacity="0.6" filter="url(#blur2)"/>
<rect x="828" y="909" width="152" height="13" rx="8" fill="#62bbfc" filter="url(#blur)"/>
<rect x="818" y="1090" width="195" height="12" rx="8" fill="#a8d8ff" opacity="0.6" filter="url(#blur2)"/>
<rect x="840" y="1089" width="145" height="14" rx="8" fill="#62bbfc" filter="url(#blur)"/>
<path d="M53.5,711 A146.5,146.5 0 0 1 206.5,564.6 L205.5,609.1 A102,102 0 0 0 97.5,711 Z" fill="#3cb5fd"/>
<path d="M206.5,564.6 A146.5,146.5 0 0 1 346.5,711 L301.5,711 A102,102 0 0 0 205.5,609.1 Z" fill="#c86ae6"/>
<g fill="#fff"><circle cx="74.3" cy="660.6" r="3.2"/><path d="M69.5,664.8 L79.2,664.8 Q81.6,664.8 81.6,667.4 L81.6,678.2 Q81.6,679.4 80.4,679.4 Q79.2,679.4 79.2,678.2 L79.2,669 L78.3,669 L78.3,693.6 Q78.3,695 76.8,695 Q75.3,695 75.3,693.6 L75.3,679.6 L73.5,679.6 L73.5,693.6 Q73.5,695 72,695 Q70.5,695 70.5,693.6 L70.5,669 L69.6,669 L69.6,678.2 Q69.6,679.4 68.4,679.4 Q67.2,679.4 67.2,678.2 L67.2,667.4 Q67.2,664.8 69.5,664.8 Z"/></g>
<g fill="#fff"><circle cx="316.7" cy="662.4" r="3"/><path d="M313.6,666.4 L319.8,666.4 Q321.2,666.4 321.7,668 L324,678 Q324.3,679.2 323.3,679.3 Q322.4,679.4 322.1,678.3 L320.5,671.5 L323,683.9 L319.7,683.9 L319.7,694.6 Q319.7,695.7 318.7,695.7 Q317.7,695.7 317.7,694.6 L317.7,683.9 L316.3,683.9 L316.3,694.6 Q316.3,695.7 315.3,695.7 Q314.3,695.7 314.3,694.6 L314.3,683.9 L310.5,683.9 L313,671.5 L311.4,678.3 Q311.1,679.4 310.2,679.3 Q309.2,679.2 309.5,678 L311.8,668 Q312.3,666.4 313.6,666.4 Z"/></g>
<path d="M186.30,873.40 A115,115 0 0 1 292.68,1032.07 L239.49,1010.24 A57.5,57.5 0 0 0 186.30,930.90 Z" fill="#00c9dd" stroke="#fff" stroke-width="0.4"/>
<path d="M292.68,1032.07 A115,115 0 1 1 137.34,884.34 L161.82,936.37 A57.5,57.5 0 1 0 239.49,1010.24 Z" fill="#55d699" stroke="#fff" stroke-width="0.4"/>
<path d="M137.34,884.34 A115,115 0 0 1 184.13,873.42 L185.22,930.91 A57.5,57.5 0 0 0 161.82,936.37 Z" fill="#ff66c4" stroke="#fff" stroke-width="0.4"/>
<path d="M184.13,873.42 A115,115 0 0 1 186.30,873.40 L186.30,930.90 A57.5,57.5 0 0 0 185.22,930.91 Z" fill="#f4c542" stroke="#fff" stroke-width="0.4"/>
<g id="icpib">
<path d="M383.4,602.4 L383.4,555 Q383.4,548 390.5,548 L443.5,548 Q450.2,548 450.2,555 L450.2,577" fill="none" stroke="#1e70c0" stroke-width="3.1" stroke-linecap="round"/>
<path d="M392.2,570.3 L401.8,570.3 L401.8,596 L392.2,601 Z" fill="#038f45"/>
<path d="M404.9,561.5 L414.6,561.5 L414.6,591 L404.9,596 Z" fill="#f15a24"/>
<path d="M417.7,577 L427.3,577 L427.3,599 L419.5,604.5 L417.7,594 Z" fill="#e3299b"/>
<path d="M431.3,556.3 L441,556.3 L441,590.5 L431.3,596.5 Z" fill="#1e70c0"/>
<path d="M384.3,610 L415.8,592.5 L416.3,611.5 L456,585.5" fill="none" stroke="#fff" stroke-width="7" stroke-linejoin="miter"/>
<path d="M384.3,610 L415.8,592.5 L416.3,611.5 L456,585.5" fill="none" stroke="#f15a24" stroke-width="4" stroke-linejoin="miter" stroke-linecap="round"/>
<path d="M449.5,582.3 L461,581.8 L456.6,592.1 Z" fill="#f15a24"/>
</g>
<g id="icpc" fill="#50d694">
<rect x="382.1" y="787" width="6.9" height="13.8"/>
<rect x="391.9" y="775.2" width="7.6" height="25.6"/>
<rect x="402.1" y="760.5" width="7.8" height="40.3"/>
<rect x="412.4" y="746.1" width="7.6" height="54.7"/>
<rect x="422.8" y="731.5" width="7.7" height="69.3"/>
<path d="M417.9,732 L435.2,732 L426.5,720.5 Z"/>
<circle cx="435.2" cy="783.1" r="17.7" fill="#f5913a"/>
<circle cx="435.2" cy="783.1" r="13.6" fill="#f8b936"/>
<text x="435.2" y="791" font-size="22" text-anchor="middle" fill="#f5913a" font-family="Liberation Sans, sans-serif">$</text>
</g>
<g id="icwoman">
<path d="M400.7,916 L414.5,916 L420.6,957.4 L414.8,957.4 L408.5,927 L407.5,957.4 L401.2,957.4 Z" fill="#ee6a48"/>
<rect x="402.8" y="957.4" width="2.5" height="4.5" fill="#c97a55"/>
<rect x="415.3" y="957.4" width="2.5" height="4.5" fill="#c97a55"/>
<path d="M397.3,965.2 Q399,961.5 405.8,961.5 L406.8,965.2 Z" fill="#1c2a48"/>
<path d="M416,961.5 Q422,961.8 424.9,965.2 L416,965.2 Z" fill="#1c2a48"/>
<path d="M400.7,900.6 L414.3,900.6 L415,916.4 L400.6,916.4 Z" fill="#3b5b8e"/>
<path d="M404.5,900.3 L411.5,900.3 L408,903.5 Z" fill="#a9d6f0"/>
<path d="M400.7,901 Q396,908 394.3,913 Q395,914.5 398,913.6 L409,910.5 L409,909 L399.5,911 L402.5,904 Z" fill="#c97a55"/>
<path d="M408.2,902 L421.2,901.5 L420.5,912.5 L407.8,917.8 Z" fill="#8fc6ea"/>
<path d="M409.5,905 L417,904 M410,910 L416,909" stroke="#2a4468" stroke-width="0.8"/>
<circle cx="408.7" cy="893.5" r="4.2" fill="#c97a55"/>
<path d="M402.2,898.5 Q400.5,892 403.8,888.2 Q406.5,884.5 411,885.3 Q414.5,886 413.8,889.5 Q409,889 406.5,891.5 Q405.5,896 405.2,899.5 Q403,900.5 402.2,898.5 Z" fill="#1d2a44"/>
<rect x="406.5" y="897" width="3" height="4" fill="#c97a55"/>
</g>
<g id="ichands">
</g>
<g>
<path d="M388.8,1060.3 L399.6,1064.3 L393.7,1082.4 L382.9,1078.5 Z" fill="#344a7e"/>
<path d="M399.6,1064.3 L403.5,1065.7 L397.6,1082.9 L393.7,1081.6 Z" fill="#8fd3f0"/>
<path d="M403.5,1065.7 Q416,1066 422,1071 Q429,1078 433,1086.5 L431,1088.5 Q424,1082 416.5,1079.5 Q413.5,1079.5 415,1082 L422.5,1092 Q423,1094.5 420.5,1093.8 Q410,1089 402,1082 Q399,1079 397.6,1082.9 Z" fill="#f5a56b"/>
<path d="M410.9,1081.9 L453.6,1094.7 L449.1,1110.9 L406.9,1099.6 Z" fill="#86d062" stroke="#5fb34a" stroke-width="1.2"/>
<circle cx="430" cy="1096.6" r="4.8" fill="#6db449"/>
<path d="M414.5,1083.5 Q418,1088 422,1092.5 Q423.5,1094 421.5,1094 Q414,1090.5 407.5,1085.5 Z" fill="#f5a56b"/>
<path d="M405,1117.8 Q409,1115.5 415,1117 Q425,1119.5 432,1118 Q436,1114 441,1112 Q452,1110 462.4,1111.5 L462.4,1125.5 Q450,1127.5 440,1129 Q428,1130.5 420,1127 Q410,1122 405,1117.8 Z" fill="#f5a56b"/>
<path d="M462.4,1110.4 L465.8,1110.4 L465.8,1126.8 L462.4,1126.8 Z" fill="#8fd3f0"/>
<rect x="465.8" y="1110.4" width="10.8" height="17.2" fill="#344a7e"/>
</g>
<g id="icmap">
<path d="M715.3,587.1 L735.3,583.2 L764,586.5 L779.5,580.8 L809.6,610.9 L791.6,616.2 L768.3,614.3 L745,617.2 Z" fill="#78c850"/>
<path d="M735.3,583.2 L764,586.5 L770,600 L748,599 Z" fill="#6aab44"/>
<path d="M728.5,600.7 L747,598 L768,601.5 L795.5,595.8 L797.8,598.8 L770.5,605 L747.5,601.5 L731.5,604.5 Z" fill="#f3ef9a"/>
<path d="M731.5,604.5 L747.5,601.5 L770.5,605 L768.3,614.3 L745,617.2 Z" fill="#4aa0cf"/>
<path d="M752,602 L765.5,604.5 L768.3,614.3 L762,614.3 Z" fill="#3d87b0"/>
<path d="M770.5,605 L797.8,598.8 L809.6,610.9 L791.6,616.2 L772,614.5 Z" fill="#c9a24e"/>
<path d="M770.5,605 L782,604 L791.6,616.2 L772,614.5 Z" fill="#a8863c"/>
<path d="M766.8,613.5 L768.3,614.3 L772,614.5 L770.5,605 L764,604.5 Z" fill="#d8d27a"/>
<path d="M767.3,601 C764,594 755.6,586 755.6,574 C755.6,567.5 761,562 767.3,562 C773.6,562 779,567.5 779,574 C779,586 770.6,594 767.3,601 Z" fill="#e10000"/>
<circle cx="767.3" cy="574.5" r="3.9" fill="#a00000"/>
</g>
<g id="icurban">
<rect x="730.3" y="720" width="58" height="80.4" fill="#fbbd58" stroke="#0b1640" stroke-width="2.6" rx="0.8"/>
<g fill="#4ecfcf">
<rect x="739" y="722" width="4.5" height="12"/><rect x="739" y="734.5" width="4.5" height="2.5"/><rect x="752" y="731.5" width="4" height="5"/>
<rect x="733.5" y="748" width="6.5" height="7"/><rect x="741" y="751" width="6.5" height="4.5"/>
<rect x="739.5" y="760" width="5" height="5.5"/><rect x="733.5" y="774" width="4" height="9"/>
<rect x="742" y="786.5" width="3.5" height="11"/>
<rect x="759.5" y="744" width="8" height="4"/><rect x="761" y="749" width="5" height="5"/><rect x="768" y="750.5" width="5" height="10"/><rect x="764" y="762" width="5" height="5.5"/>
<rect x="778" y="770" width="3.5" height="5.5"/><rect x="782.5" y="766.5" width="3.5" height="12"/><rect x="777" y="776.5" width="5" height="2.5"/>
<rect x="767" y="787" width="6" height="3"/><rect x="766" y="793" width="4" height="6"/><rect x="772" y="797" width="6" height="2"/>
<rect x="775" y="731.5" width="5" height="5"/><rect x="782" y="730" width="4.5" height="4.5"/>
</g>
<g stroke="#fff" stroke-width="1.1" fill="none">
<path d="M757.5,721.5 L757.5,799"/><path d="M731.6,738.7 L757.5,738.7"/><path d="M731.6,757.7 L757.5,757.7"/>
<path d="M757.5,742.6 L780.8,742.6 L780.8,756.3 L786.8,756.3"/>
<path d="M758,733.1 L786.8,722.5"/><path d="M774,728 L786.8,736.5"/>
<path d="M758,765.5 L771,778.2 L786.8,778.2"/><path d="M757.5,791.5 L786.8,791.5"/>
<path d="M746.5,757.7 L746.5,777 L732,793"/><path d="M739.5,786.5 L739.5,799"/>
<path d="M737,738.7 Q739,748 757.5,748.5"/><path d="M746.3,721.5 L746.3,729 L757.5,729"/>
</g>
<path d="M736,790 L740,785.5 L742.5,787.5 L738.5,792 Z" fill="#f0646a"/>
<path d="M767,723 L772.5,723 L771,726.5 L767.5,727 Z" fill="#f0646a"/>
<circle cx="770" cy="719.5" r="1.8" fill="#f0646a" stroke="#0b1640" stroke-width="0.7"/>
</g>
<g id="icglobe"><circle cx="761.8" cy="926.8" r="35.3" fill="#045a76"/>
<g clip-path="url(#globeclip)" fill="#9bc33c"><path d="M742.8,896.4 L752.6,897.9 L753.4,903.2 L751.9,904 L752.6,913.9 L750.4,917.7 L745.1,920.7 L742,924.5 L740.5,930.6 L739,934.4 L739.7,938.2 L742.8,941.2 L746.6,942.7 L754.2,945.7 L759.5,950.3 L759.5,955.6 L755.7,959.4 L753.4,961.7 L752,966 L744,966 L742.8,953.3 L739.7,948 L738.2,942.7 L735.2,938.2 L731.4,933.6 L727.6,927.5 L726.8,920.7 L715,915 L715,880 L742.8,880 Z"/>
<path d="M756.4,896.4 L762.5,893.4 L763.3,900.2 L759.5,907 L756.4,904 Z"/>
<path d="M771.6,898.7 L777,894 L777,880 L810,880 L810,970 L781.5,970 L781.5,955.6 L781.5,949.5 L783,944.2 L780.7,939.7 L774.7,938.2 L770.1,935.1 L767.8,930.6 L769.4,926 L774.7,919.9 L772.4,917.7 L773.2,911.6 L777,906.3 L773.2,904 Z"/><path d="M775,917.5 Q782,914.5 789,917 Q784,919.5 775,917.5 Z" fill="#045a76"/><path d="M743.5,897 L749.6,895.6 L748,900.2 Z" fill="#045a76"/></g>
<g fill="#f4f2ea"><circle cx="761" cy="893.7" r="1.6"/><path d="M758,895.7 L764,895.7 L762.6,898.7 L762.5,902.1 L761.3,902.1 L761,899.6 L760.7,902.1 L759.5,902.1 L759.4,898.7 Z"/></g>
<g fill="#f4f2ea"><circle cx="739" cy="905.9" r="1.6"/><path d="M736,907.9 L742,907.9 L740.6,910.9 L740.5,914.3 L739.3,914.3 L739,911.8 L738.7,914.3 L737.5,914.3 L737.4,910.9 Z"/></g>
<g fill="#f4f2ea"><circle cx="747.3" cy="905.9" r="1.6"/><path d="M744.3,907.9 L750.3,907.9 L748.9,910.9 L748.8,914.3 L747.5999999999999,914.3 L747.3,911.8 L747.0,914.3 L745.8,914.3 L745.6999999999999,910.9 Z"/></g>
<g fill="#f4f2ea"><circle cx="732.9" cy="915.0" r="1.6"/><path d="M729.9,917.0 L735.9,917.0 L734.5,920.0 L734.4,923.4 L733.1999999999999,923.4 L732.9,920.9 L732.6,923.4 L731.4,923.4 L731.3,920.0 Z"/></g>
<g fill="#f4f2ea"><circle cx="735.6" cy="927.9" r="1.6"/><path d="M732.6,929.9 L738.6,929.9 L737.2,932.9 L737.1,936.3 L735.9,936.3 L735.6,933.8 L735.3000000000001,936.3 L734.1,936.3 L734.0,932.9 Z"/></g>
<g fill="#f4f2ea"><circle cx="745.1" cy="938.6" r="1.6"/><path d="M742.1,940.6 L748.1,940.6 L746.7,943.6 L746.6,947 L745.4,947 L745.1,944.5 L744.8000000000001,947 L743.6,947 L743.5,943.6 Z"/></g>
<g fill="#f4f2ea"><circle cx="751.9" cy="946.1" r="1.6"/><path d="M748.9,948.1 L754.9,948.1 L753.5,951.1 L753.4,954.5 L752.1999999999999,954.5 L751.9,952.0 L751.6,954.5 L750.4,954.5 L750.3,951.1 Z"/></g>
<g fill="#f4f2ea"><circle cx="760.6" cy="932.5" r="1.6"/><path d="M757.6,934.5 L763.6,934.5 L762.2,937.5 L762.1,940.9 L760.9,940.9 L760.6,938.4 L760.3000000000001,940.9 L759.1,940.9 L759.0,937.5 Z"/></g>
<g fill="#f4f2ea"><circle cx="784.2" cy="903.6" r="1.6"/><path d="M781.2,905.6 L787.2,905.6 L785.8000000000001,908.6 L785.7,912 L784.5,912 L784.2,909.5 L783.9000000000001,912 L782.7,912 L782.6,908.6 Z"/></g>
<g fill="#f4f2ea"><circle cx="783.4" cy="920.3000000000001" r="1.6"/><path d="M780.4,922.3000000000001 L786.4,922.3000000000001 L785.0,925.3000000000001 L784.9,928.7 L783.6999999999999,928.7 L783.4,926.2 L783.1,928.7 L781.9,928.7 L781.8,925.3000000000001 Z"/></g>
<g fill="#f4f2ea"><circle cx="792.5" cy="919.6" r="1.6"/><path d="M789.5,921.6 L795.5,921.6 L794.1,924.6 L794.0,928 L792.8,928 L792.5,925.5 L792.2,928 L791.0,928 L790.9,924.6 Z"/></g>
<g fill="#f4f2ea"><circle cx="775.8" cy="925.6" r="1.6"/><path d="M772.8,927.6 L778.8,927.6 L777.4,930.6 L777.3,934 L776.0999999999999,934 L775.8,931.5 L775.5,934 L774.3,934 L774.1999999999999,930.6 Z"/></g>
<g fill="#f4f2ea"><circle cx="787.6" cy="934.0" r="1.6"/><path d="M784.6,936.0 L790.6,936.0 L789.2,939.0 L789.1,942.4 L787.9,942.4 L787.6,939.9 L787.3000000000001,942.4 L786.1,942.4 L786.0,939.0 Z"/></g>
</g>
<g id="icforest">
<rect x="734.3" y="1073.1" width="66.7" height="36.7" fill="#3d8a33"/>
<rect x="734.3" y="1073.1" width="66.7" height="4" fill="#bfe396"/>
<g fill="#8fcc6a"><ellipse cx="745" cy="1095" rx="7" ry="9"/><ellipse cx="768" cy="1094" rx="6" ry="8"/><ellipse cx="790" cy="1097" rx="8" ry="7"/></g>
<g fill="#b5df8f" opacity="0.8"><ellipse cx="744" cy="1097" rx="3" ry="5"/><ellipse cx="791" cy="1098" rx="4" ry="4"/></g>
<g fill="#5aa545"><ellipse cx="760" cy="1080" rx="7" ry="5"/><ellipse cx="772" cy="1083" rx="5" ry="6"/></g>
<g fill="#0d3d12">
<path d="M734.3,1077 Q738,1074 742,1076 Q746,1072.5 751,1075.5 Q756,1074 758,1078 Q762,1081 759,1086 Q753,1089 747,1087 Q744,1091 740,1088 L734.3,1090 Z"/>
<path d="M765,1078 Q768,1073.5 772,1076 Q775,1080 771,1083 Q767,1083 765,1078 Z"/>
<path d="M777,1080 Q780,1075 786,1077 Q789,1073 794,1076 Q798,1075 801,1077 L801,1092 Q796,1094 792,1090 Q786,1092 782,1088 Q777,1087 777,1080 Z"/>
<rect x="747" y="1085" width="3.6" height="22"/><rect x="737" y="1088" width="1.8" height="18"/><rect x="764.5" y="1082" width="2" height="25"/><rect x="786" y="1088" width="2" height="20"/><rect x="776" y="1092" width="1.6" height="16"/><rect x="756" y="1094" width="1.5" height="13"/>
<path d="M734.3,1105 Q740,1101 746,1104 Q752,1100 758,1104 Q766,1101 772,1104 Q780,1100 788,1104 Q795,1102 801,1104 L801,1109.8 L734.3,1109.8 Z"/>
</g>
</g>
<g id="footer">
<g font-family="Liberation Sans, sans-serif" fill="#2b3388" stroke="#2b3388" stroke-width="0.25" text-anchor="end" font-size="8.8">
<text x="307.5" y="1251" font-weight="bold">SEPLAG</text>
<text x="307.5" y="1261.3">Secretaria</text>
<text x="307.5" y="1271.6">de Estado de</text>
<text x="307.5" y="1281.9">Planejamento</text>
<text x="307.5" y="1292.2">e Gestão</text>
</g>
<rect x="315.6" y="1238.9" width="59.5" height="59.5" fill="#2b3388"/>
<g fill="none" stroke="#fff" stroke-width="1.2">
<path d="M335,1257 L356,1257 L355.5,1273 Q345.5,1283 335.5,1273 Z" stroke-width="1.6"/>
<path d="M330,1258 Q327,1280 345.5,1288.5 Q364,1280 361,1258" stroke-width="2.2" stroke-dasharray="2.2 1.2"/>
<path d="M333,1286 Q345.5,1293 358,1286" stroke-width="1.6"/>
<path d="M331,1253 Q345.5,1243 360,1253" stroke-width="2"/>
</g>
<g fill="#fff"><path d="M341,1249 L345.5,1244.5 L350,1249 L348.5,1252 L342.5,1252 Z"/><path d="M338.5,1261 L350,1259.5 L352.5,1266 L341,1268.5 Z"/><path d="M337.5,1274 Q345.5,1269 353.5,1274 L345.5,1280 Z"/><rect x="323" y="1262" width="4" height="2"/><rect x="364" y="1262" width="4" height="2"/></g>
<rect x="474" y="1238.9" width="7.8" height="59.5" fill="#2b3388"/>
<g fill="#1c9fd6"><rect x="515" y="1247" width="5" height="5" transform="rotate(-10 517 1249)"/><rect x="530" y="1243" width="6" height="6" fill="#2b7cc4"/><rect x="520" y="1254" width="3" height="3" fill="#37c0d8"/><rect x="513" y="1263" width="2.5" height="2.5"/><rect x="521" y="1270" width="3" height="3" fill="#2b7cc4"/></g>
<path d="M518,1250 L533,1246 M518,1252 L522,1270" stroke="#7fb8d8" stroke-width="0.6"/>
<circle cx="742.5" cy="1287.5" r="2.6" fill="#1db2e8"/>
<circle cx="813.5" cy="1287.5" r="2.6" fill="#1db2e8"/>
</g>
<text x="271.60" y="93.9" font-size="32" font-weight="bold" font-style="normal" fill="#dcdce2"  textLength="85.80" lengthAdjust="spacingAndGlyphs">19/03</text>
<text x="60.00" y="258" font-size="92" font-weight="bold" font-style="italic" fill="#fff" stroke="#fff" stroke-width="2.5" stroke-linejoin="round" textLength="138.60" lengthAdjust="spacingAndGlyphs">São</text>
<text x="221.00" y="258" font-size="92" font-weight="bold" font-style="italic" fill="#fff" stroke="#fff" stroke-width="2.5" stroke-linejoin="round" textLength="192.00" lengthAdjust="spacingAndGlyphs">José</text>
<text x="427.20" y="258" font-size="92" font-weight="bold" font-style="italic" fill="#fff" stroke="#fff" stroke-width="2.5" stroke-linejoin="round" textLength="97.00" lengthAdjust="spacingAndGlyphs">do</text>
<text x="541.80" y="258" font-size="92" font-weight="bold" font-style="italic" fill="#fff" stroke="#fff" stroke-width="2.5" stroke-linejoin="round" textLength="121.40" lengthAdjust="spacingAndGlyphs">Rio</text>
<text x="259.00" y="332" font-size="92" font-weight="bold" font-style="italic" fill="#fff" stroke="#fff" stroke-width="2.5" stroke-linejoin="round" textLength="204.00" lengthAdjust="spacingAndGlyphs">Claro</text>
<text x="565.00" y="354" font-size="34.5" font-weight="bold" font-style="normal" fill="#d9d9de" stroke="#d9d9de" stroke-width="0.8" textLength="115.70" lengthAdjust="spacingAndGlyphs">46 anos</text>
<text x="376.00" y="476" font-size="26" font-weight="bold" font-style="italic" fill="#262d7e" stroke="#262d7e" stroke-width="0.6" textLength="329.00" lengthAdjust="spacingAndGlyphs">PERFIL DO MUNICÍPIO</text>
<text x="141.00" y="533.9" font-size="20" font-weight="bold" font-style="normal" fill="#111" stroke="#111" stroke-width="0.35" textLength="110.40" lengthAdjust="spacingAndGlyphs">Habitantes</text>
<text x="125.80" y="787.7" font-size="20" font-weight="bold" font-style="normal" fill="#111" stroke="#111" stroke-width="0.35" textLength="156.20" lengthAdjust="spacingAndGlyphs">Cor ou Raça (%)</text>
<text x="486.00" y="536" font-size="20" font-weight="bold" font-style="normal" fill="#111" stroke="#111" stroke-width="0.35" textLength="94.60" lengthAdjust="spacingAndGlyphs">PIB - 2021</text>
<text x="428.20" y="701.2" font-size="20" font-weight="bold" font-style="normal" fill="#111" stroke="#111" stroke-width="0.35" textLength="202.60" lengthAdjust="spacingAndGlyphs">PIB per Capita - 2021</text>
<text x="400.00" y="866.2" font-size="20" font-weight="bold" font-style="normal" fill="#111" xml:space="preserve" stroke="#111" stroke-width="0.35" textLength="265.60" lengthAdjust="spacingAndGlyphs">População  Ocupada - 2022</text>
<text x="384.80" y="1033" font-size="20" font-weight="bold" font-style="normal" fill="#111" stroke="#111" stroke-width="0.35" textLength="287.00" lengthAdjust="spacingAndGlyphs">Salário Médio (Formal) - 2022</text>
<text x="811.40" y="533.3" font-size="20" font-weight="bold" font-style="normal" fill="#111" stroke="#111" stroke-width="0.35" textLength="103.80" lengthAdjust="spacingAndGlyphs">Área Total</text>
<text x="810.80" y="701" font-size="20" font-weight="bold" font-style="normal" fill="#111" stroke="#111" stroke-width="0.35" textLength="124.40" lengthAdjust="spacingAndGlyphs">Área Urbana</text>
<text x="750.60" y="866.7" font-size="20" font-weight="bold" font-style="normal" fill="#111" stroke="#111" stroke-width="0.35" textLength="236.60" lengthAdjust="spacingAndGlyphs">Densidade Demográfica</text>
<text x="774.10" y="1036.1" font-size="20" font-weight="bold" font-style="normal" fill="#111" stroke="#111" stroke-width="0.35" textLength="212.20" lengthAdjust="spacingAndGlyphs">Bioma Predominante</text>
<text x="125.00" y="603" font-size="20" font-weight="bold" font-style="normal" fill="#0e1a44" filter="url(#tsh)" stroke="#0e1a44" stroke-width="1.3" stroke-linejoin="round" textLength="57.00" lengthAdjust="spacingAndGlyphs">50,8%</text>
<text x="221.00" y="603" font-size="20" font-weight="bold" font-style="normal" fill="#0e1a44" filter="url(#tsh)" stroke="#0e1a44" stroke-width="1.3" stroke-linejoin="round" textLength="57.00" lengthAdjust="spacingAndGlyphs">49,2%</text>
<text x="138.80" y="689.3" font-size="38" font-weight="bold" font-style="normal" fill="#0e1a45" stroke="#0e1a45" stroke-width="0.8" textLength="117.20" lengthAdjust="spacingAndGlyphs">14.911</text>
<text x="129.00" y="845" font-size="18" font-weight="normal" font-style="normal" fill="#2a3f5f"  textLength="46.00" lengthAdjust="spacingAndGlyphs">Preta</text>
<text x="131.80" y="865" font-size="18" font-weight="normal" font-style="normal" fill="#2a3f5f"  textLength="42.00" lengthAdjust="spacingAndGlyphs">6.7%</text>
<text x="286.20" y="897.7" font-size="18" font-weight="normal" font-style="normal" fill="#2a3f5f"  textLength="59.60" lengthAdjust="spacingAndGlyphs">Branca</text>
<text x="290.80" y="918.3" font-size="18" font-weight="normal" font-style="normal" fill="#2a3f5f"  textLength="52.00" lengthAdjust="spacingAndGlyphs">31.2%</text>
<text x="53.00" y="1097.7" font-size="18" font-weight="normal" font-style="normal" fill="#2a3f5f"  textLength="51.40" lengthAdjust="spacingAndGlyphs">Parda</text>
<text x="54.00" y="1118.3" font-size="18" font-weight="normal" font-style="normal" fill="#2a3f5f"  textLength="52.00" lengthAdjust="spacingAndGlyphs">61.8%</text>
<text x="497.00" y="593" font-size="31" font-weight="bold" font-style="normal" fill="#0c1a45" stroke="#0c1a45" stroke-width="0.6" textLength="116.80" lengthAdjust="spacingAndGlyphs">R$ 1,47</text>
<text x="646.00" y="593" font-size="22" font-weight="bold" font-style="normal" fill="#0c1a45" stroke="#0c1a45" stroke-width="0.5" textLength="29.00" lengthAdjust="spacingAndGlyphs">mi</text>
<text x="563.00" y="646.8" font-size="18" font-weight="normal" font-style="normal" fill="#111"  textLength="102.80" lengthAdjust="spacingAndGlyphs">32° de 142°</text>
<text x="466.40" y="769.6" font-size="37.5" font-weight="bold" font-style="normal" fill="#0c1a45" stroke="#0c1a45" stroke-width="0.6" textLength="162.20" lengthAdjust="spacingAndGlyphs">R$68,64</text>
<text x="633.20" y="769.6" font-size="22" font-weight="bold" font-style="normal" fill="#0c1a45" stroke="#0c1a45" stroke-width="0.5" textLength="34.80" lengthAdjust="spacingAndGlyphs">mil</text>
<text x="568.80" y="806.7" font-size="18" font-weight="normal" font-style="normal" fill="#111"  textLength="101.20" lengthAdjust="spacingAndGlyphs">53° de 142°</text>
<text x="474.00" y="891.4" font-size="16" font-weight="normal" font-style="italic" fill="#1f2b58"  textLength="130.00" lengthAdjust="spacingAndGlyphs">Emprego formal</text>
<text x="488.50" y="942.1" font-size="42.5" font-weight="bold" font-style="normal" fill="#0c1a45" stroke="#0c1a45" stroke-width="0.6" textLength="110.40" lengthAdjust="spacingAndGlyphs">4.164</text>
<text x="607.80" y="975.5" font-size="18" font-weight="normal" font-style="normal" fill="#111"  textLength="66.40" lengthAdjust="spacingAndGlyphs">27,93%</text>
<text x="505.40" y="1097.2" font-size="45" font-weight="bold" font-style="normal" fill="#0c1a45" stroke="#0c1a45" stroke-width="0.6" textLength="67.40" lengthAdjust="spacingAndGlyphs">2,5</text>
<text x="585.90" y="1076.2" font-size="17" font-weight="normal" font-style="normal" fill="#1f2d5c"  textLength="64.00" lengthAdjust="spacingAndGlyphs">salários</text>
<text x="583.00" y="1099.2" font-size="17" font-weight="normal" font-style="normal" fill="#1f2d5c"  textLength="74.00" lengthAdjust="spacingAndGlyphs">mínimos</text>
<text x="564.30" y="1140" font-size="18" font-weight="normal" font-style="normal" fill="#111"  textLength="98.10" lengthAdjust="spacingAndGlyphs">41° de 142°</text>
<text x="839.60" y="590.8" font-size="32" font-weight="bold" font-style="normal" fill="#0c1a45" stroke="#0c1a45" stroke-width="0.6" textLength="129.20" lengthAdjust="spacingAndGlyphs">4,52 mil</text>
<text x="934.20" y="626" font-size="21" font-weight="bold" font-style="normal" fill="#0c1a45" stroke="#0c1a45" stroke-width="0.5" textLength="43.00" lengthAdjust="spacingAndGlyphs">km²</text>
<text x="844.20" y="762.8" font-size="43" font-weight="bold" font-style="normal" fill="#0c1a45" stroke="#0c1a45" stroke-width="0.6" textLength="92.60" lengthAdjust="spacingAndGlyphs">4,95</text>
<text x="909.20" y="790.7" font-size="21" font-weight="bold" font-style="normal" fill="#0c1a45" stroke="#0c1a45" stroke-width="0.5" textLength="42.40" lengthAdjust="spacingAndGlyphs">km²</text>
<text x="854.60" y="926.1" font-size="43" font-weight="bold" font-style="normal" fill="#0c1a45" stroke="#0c1a45" stroke-width="0.6" textLength="94.20" lengthAdjust="spacingAndGlyphs">3,30</text>
<text x="861.20" y="955.6" font-size="21" font-weight="bold" font-style="normal" fill="#0c1a45" stroke="#0c1a45" stroke-width="0.5" textLength="91.80" lengthAdjust="spacingAndGlyphs">hab/km²</text>
<text x="813.20" y="1103.2" font-size="31" font-weight="bold" font-style="normal" fill="#0c1a45" stroke="#0c1a45" stroke-width="0.6" textLength="172.40" lengthAdjust="spacingAndGlyphs">Amazônia</text>
<text x="383.20" y="1256" font-size="15" font-weight="bold" font-style="normal" fill="#2b3388" stroke="#2b3388" stroke-width="0.7" textLength="82.80" lengthAdjust="spacingAndGlyphs">Governo de</text>
<text x="382.00" y="1273.3" font-size="17" font-weight="bold" font-style="normal" fill="#2b3388" stroke="#2b3388" stroke-width="0.7" textLength="51.20" lengthAdjust="spacingAndGlyphs">Mato</text>
<text x="383.00" y="1292.2" font-size="18" font-weight="bold" font-style="normal" fill="#2b3388" stroke="#2b3388" stroke-width="0.7" textLength="68.00" lengthAdjust="spacingAndGlyphs">Grosso</text>
<text x="525.30" y="1290" font-size="46" font-weight="normal" font-style="italic" fill="url(#gdados)" stroke="url(#gdados)" stroke-width="2.4" stroke-linejoin="round" textLength="146.70" lengthAdjust="spacingAndGlyphs">DADOS</text>
<text x="678.00" y="1290" font-size="46" font-weight="bold" font-style="italic" fill="#1c5aa6" stroke="#1c5aa6" stroke-width="1" textLength="63.00" lengthAdjust="spacingAndGlyphs">MT</text>
<text x="751.00" y="1290" font-size="38" font-weight="normal" font-style="italic" fill="#6c6f74" stroke="#6c6f74" stroke-width="1.6" stroke-linejoin="round" textLength="55.00" lengthAdjust="spacingAndGlyphs">gov</text>
<text x="817.00" y="1290" font-size="38" font-weight="normal" font-style="italic" fill="#6c6f74" stroke="#6c6f74" stroke-width="1.6" stroke-linejoin="round" textLength="39.00" lengthAdjust="spacingAndGlyphs">br</text>
</svg>
</body></html>
